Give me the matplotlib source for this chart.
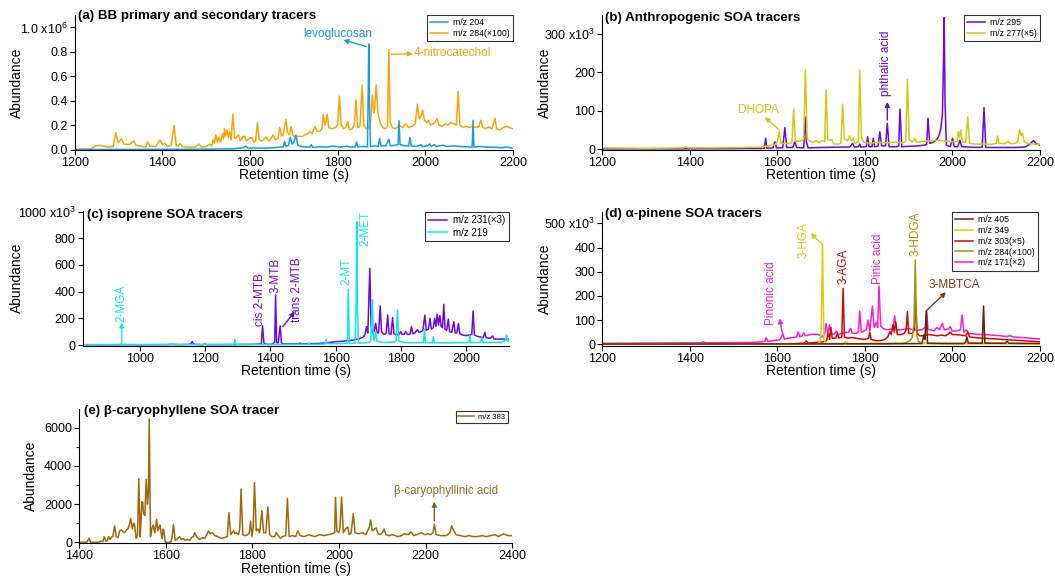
import numpy as np
import matplotlib
matplotlib.use('Agg')
import matplotlib.pyplot as plt
from matplotlib.ticker import MultipleLocator

plt.rcParams['font.family'] = ['Liberation Sans', 'DejaVu Sans']
plt.rcParams['mathtext.fontset'] = 'custom'
plt.rcParams['mathtext.rm'] = 'Liberation Sans'
plt.rcParams['mathtext.it'] = 'Liberation Sans:italic'
plt.rcParams['mathtext.bf'] = 'Liberation Sans:bold'

# ---- (a) BB tracers, abundance in 1e6 ----
a_mz204 = [(1200,0.0),(1300,0.001),(1400,0.002),(1500,0.003),(1560,0.006),(1585,0.015),(1590,0.028),(1596,0.012),
           (1640,0.012),(1665,0.018),(1676,0.022),(1679,0.065),(1682,0.025),(1688,0.035),(1692,0.10),(1696,0.045),
           (1700,0.06),(1705,0.12),(1709,0.035),(1720,0.022),(1737,0.02),(1740,0.04),(1743,0.018),(1760,0.022),
           (1775,0.02),(1790,0.028),(1805,0.02),(1820,0.028),(1830,0.02),(1840,0.022),(1843,0.062),(1846,0.022),
           (1860,0.025),(1868,0.022),(1870,0.5),(1871,0.865),(1872.5,0.4),(1875,0.025),(1885,0.03),(1893,0.025),
           (1896,0.09),(1899,0.03),(1910,0.03),(1917,0.085),(1920,0.03),(1930,0.035),(1938,0.04),(1940,0.236),
           (1942.5,0.04),(1955,0.03),(1962,0.03),(1965,0.1),(1968,0.03),(1980,0.025),(1990,0.04),(1993,0.025),
           (2005,0.03),(2010,0.045),(2014,0.025),(2020,0.04),(2025,0.025),(2040,0.035),(2050,0.025),(2065,0.03),
           (2080,0.025),(2095,0.022),(2107,0.02),(2109,0.24),(2111,0.02),(2125,0.025),(2140,0.02),(2160,0.018),
           (2175,0.015),(2185,0.02),(2200,0.012)]
a_mz284 = [(1200,0.002),(1230,0.004),(1240,0.01),(1248,0.03),(1258,0.035),(1265,0.028),(1275,0.02),(1288,0.025),
           (1294,0.14),(1299,0.06),(1303,0.07),(1307,0.09),(1312,0.045),(1325,0.04),(1335,0.072),(1340,0.035),
           (1355,0.025),(1362,0.02),(1367,0.064),(1372,0.025),(1385,0.025),(1395,0.078),(1400,0.04),(1406,0.05),
           (1412,0.025),(1420,0.03),(1427,0.198),(1432,0.03),(1437,0.03),(1441,0.05),(1446,0.025),(1460,0.02),
           (1475,0.02),(1484,0.045),(1489,0.02),(1500,0.025),(1509,0.045),(1513,0.03),(1516,0.08),(1519,0.05),
           (1522,0.12),(1526,0.06),(1529,0.10),(1533,0.06),(1538,0.133),(1540,0.09),(1542,0.17),(1545,0.11),
           (1548,0.16),(1551,0.1),(1554,0.145),(1557,0.08),(1561,0.288),(1565,0.09),(1569,0.1),(1574,0.12),
           (1578,0.07),(1583,0.1),(1588,0.11),(1592,0.07),(1598,0.09),(1604,0.1),(1609,0.06),(1613,0.07),
           (1617,0.22),(1621,0.08),(1628,0.07),(1633,0.09),(1638,0.1),(1643,0.07),(1648,0.09),(1653,0.12),
           (1658,0.08),(1664,0.09),(1668,0.18),(1672,0.11),(1676,0.12),(1682,0.247),(1686,0.14),(1690,0.12),
           (1694,0.19),(1698,0.12),(1703,0.1),(1710,0.11),(1718,0.105),(1725,0.12),(1732,0.13),(1737,0.146),
           (1742,0.13),(1748,0.19),(1753,0.15),(1760,0.15),(1764,0.17),(1767,0.288),(1771,0.2),(1773,0.22),
           (1776,0.288),(1780,0.18),(1787,0.17),(1795,0.18),(1800,0.2),(1804,0.439),(1808,0.21),(1813,0.17),
           (1818,0.18),(1823,0.228),(1827,0.16),(1833,0.17),(1838,0.2),(1842,0.406),(1846,0.18),(1851,0.19),
           (1856,0.529),(1860,0.2),(1866,0.17),(1872,0.18),(1876,0.25),(1879,0.447),(1883,0.3),(1885,0.35),
           (1888,0.529),(1892,0.3),(1897,0.22),(1903,0.18),(1910,0.17),(1914,0.2),(1917,0.82),(1920,0.22),
           (1925,0.18),(1932,0.17),(1940,0.2),(1948,0.18),(1955,0.21),(1962,0.18),(1970,0.19),(1977,0.21),
           (1982,0.373),(1986,0.25),(1990,0.27),(1994,0.324),(1998,0.24),(2003,0.22),(2007,0.24),(2012,0.2),
           (2018,0.21),(2023,0.23),(2027,0.255),(2031,0.2),(2038,0.19),(2045,0.21),(2052,0.2),(2058,0.22),
           (2066,0.21),(2071,0.2),(2075,0.474),(2079,0.2),(2086,0.18),(2093,0.19),(2100,0.18),(2108,0.19),
           (2115,0.18),(2122,0.19),(2127,0.24),(2131,0.18),(2138,0.17),(2145,0.185),(2152,0.17),(2159,0.255),
           (2163,0.17),(2170,0.16),(2178,0.18),(2185,0.19),(2192,0.18),(2200,0.17)]

# ---- (b) anthropogenic, abundance in 1e3 ----
b_mz295 = [(1200,0.5),(1300,0.5),(1400,0.5),(1500,1),(1560,1.5),(1570,2),(1573,28),(1576,2),(1590,3),(1594,19),
           (1598,3),(1612,3),(1617,56),(1621,4),(1635,4),(1640,19),(1644,4),(1660,3),(1663,84),(1666,20),(1670,3),
           (1700,4),(1740,5),(1765,5),(1772,15),(1776,5),(1785,6),(1788,13),(1791,5),(1803,6),(1806,32),(1809,6),
           (1816,6),(1819,28),(1822,6),(1830,8),(1834,45),(1838,8),(1847,8),(1851,67),(1855,6),(1872,6),(1877,8),
           (1880,104),(1884,6),(1900,7),(1920,8),(1935,10),(1941,12),(1944,80),(1948,15),(1955,17),(1962,22),
           (1968,32),(1973,50),(1977,90),(1979,200),(1981,343),(1983,120),(1986,10),(1995,6),(2000,28),(2004,6),
           (2012,6),(2017,23),(2021,6),(2040,5),(2060,4),(2068,5),(2072,108),(2076,4),(2100,4),(2140,4),(2165,5),
           (2176,12),(2185,22),(2190,15),(2200,10)]
b_mz277 = [(1200,3),(1300,2),(1385,3),(1390,6),(1395,3),(1450,3),(1520,4),(1560,5),(1580,8),(1595,12),(1600,20),
           (1604,45),(1608,15),(1620,14),(1633,16),(1637,103),(1641,20),(1652,20),(1656,24),(1660,25),(1664,208),
           (1668,25),(1680,17),(1688,22),(1695,16),(1701,22),(1708,20),(1711,154),(1715,25),(1720,23),(1724,25),
           (1728,14),(1738,12),(1745,15),(1749,117),(1753,25),(1760,22),(1765,34),(1769,22),(1773,28),(1777,15),
           (1785,18),(1788,206),(1792,30),(1797,18),(1810,15),(1830,17),(1850,16),(1870,18),(1885,16),(1893,20),
           (1897,182),(1901,25),(1908,18),(1914,28),(1918,18),(1935,20),(1955,22),(1975,22),(1995,20),(2005,18),
           (2010,20),(2013,45),(2016,30),(2019,50),(2023,18),(2030,18),(2035,84),(2039,15),(2050,13),(2070,13),
           (2090,12),(2100,15),(2103,34),(2107,15),(2120,14),(2127,20),(2132,14),(2145,15),(2150,22),(2153,50),
           (2157,35),(2160,41),(2164,18),(2175,14),(2190,12),(2200,13)]

# ---- (c) isoprene, abundance in 1e3 ----
c_mz231 = [(824,2),(900,2),(940,3),(1000,2),(1080,3),(1100,5),(1120,3),(1155,5),(1160,25),(1165,5),(1195,3),
           (1199,8),(1203,3),(1250,3),(1300,4),(1350,5),(1372,8),(1376,143),(1380,15),(1385,8),(1390,5),(1405,5),
           (1413,20),(1416,375),(1419,20),(1424,15),(1430,143),(1434,15),(1440,8),(1488,8),(1491,15),(1494,8),
           (1520,10),(1550,12),(1580,18),(1600,25),(1620,28),(1640,32),(1655,38),(1670,45),(1685,60),(1690,75),
           (1695,138),(1699,90),(1705,575),(1709,150),(1713,90),(1718,100),(1723,163),(1727,95),(1732,90),
           (1737,293),(1741,100),(1748,80),(1755,85),(1760,225),(1764,85),(1770,80),(1775,205),(1779,85),(1787,75),
           (1795,80),(1800,100),(1804,80),(1810,80),(1815,100),(1820,80),(1828,80),(1833,138),(1837,85),(1843,90),
           (1851,115),(1856,95),(1862,100),(1868,110),(1874,225),(1878,110),(1885,120),(1890,200),(1894,120),
           (1900,130),(1904,200),(1908,140),(1912,230),(1916,150),(1920,220),(1924,140),(1928,130),(1932,305),
           (1936,120),(1941,110),(1946,195),(1950,100),(1956,95),(1963,175),(1967,90),(1972,90),(1977,160),
           (1981,85),(1990,75),(2000,70),(2010,75),(2018,80),(2022,255),(2026,75),(2035,65),(2045,60),(2053,55),
           (2058,95),(2062,55),(2075,50),(2082,68),(2086,45),(2100,45),(2115,45),(2125,40),(2132,45)]
c_mz219 = [(824,3),(900,3),(938,3),(941,8),(944,3),(1000,3),(1100,3),(1200,3),(1288,4),(1291,42),(1294,5),
           (1380,4),(1420,4),(1440,4),(1515,5),(1518,15),(1521,5),(1560,6),(1568,8),(1571,42),(1574,10),(1590,10),
           (1610,10),(1628,12),(1636,15),(1639,418),(1642,12),(1650,12),(1660,15),(1663,300),(1665,925),(1667,300),
           (1670,15),(1685,15),(1700,18),(1708,25),(1711,200),(1713,338),(1716,60),(1719,30),(1723,100),(1727,30),
           (1735,25),(1745,20),(1760,20),(1780,22),(1786,30),(1790,263),(1794,30),(1800,25),(1815,18),(1840,17),
           (1860,18),(1870,20),(1873,118),(1876,20),(1890,17),(1897,20),(1900,62),(1903,18),(1920,16),(1950,16),
           (1980,18),(2000,18),(2009,20),(2012,75),(2015,18),(2030,18),(2044,20),(2048,55),(2052,20),(2070,18),
           (2090,20),(2110,20),(2118,30),(2122,40),(2125,75),(2128,25),(2132,40)]

# ---- (d) alpha-pinene, abundance in 1e3 ----
d_mz405 = [(1200,1),(1400,1),(1600,1.5),(1800,2),(1850,2),(1900,2.5),(1930,3),(1935,40),(1937,20),(1940,137),
           (1943,4),(1980,3),(2025,3),(2030,8),(2033,31),(2036,5),(2068,4),(2071,158),(2074,5),(2120,4),(2125,12),
           (2129,4),(2200,3)]
d_mz349 = [(1200,0.5),(1500,0.5),(1650,1),(1690,2),(1697,8),(1700,60),(1703,413),(1706,20),(1712,3),(1750,3),
           (1758,10),(1762,3),(1800,3),(1866,3),(1870,8),(1874,3),(1900,3),(1980,3),(1984,8),(1988,3),(2100,3),
           (2200,3)]
d_mz303 = [(1200,2),(1400,2),(1600,2),(1640,3),(1662,5),(1666,14),(1670,5),(1690,8),(1704,10),(1712,15),(1716,45),
           (1719,20),(1722,70),(1725,25),(1733,25),(1737,45),(1740,25),(1747,30),(1750,231),(1753,30),(1760,25),
           (1770,28),(1780,25),(1790,22),(1800,20),(1808,25),(1811,50),(1814,20),(1825,15),(1835,15),(1845,20),
           (1852,30),(1857,52),(1860,40),(1864,80),(1867,50),(1870,93),(1874,40),(1882,40),(1890,45),(1894,60),
           (1897,135),(1900,45),(1908,45),(1913,60),(1916,180),(1919,45),(1925,35),(1935,35),(1945,40),(1956,38),
           (1965,35),(1975,38),(1985,35),(1995,50),(2000,40),(2010,40),(2020,38),(2030,35),(2035,50),(2039,30),
           (2050,28),(2070,25),(2100,22),(2130,18),(2160,15),(2200,10)]
d_mz284 = [(1200,1),(1500,1.5),(1700,2),(1750,2),(1755,8),(1760,2),(1850,3),(1885,4),(1895,8),(1903,15),(1908,30),
           (1912,80),(1915,348),(1918,40),(1922,12),(1930,4),(1980,3),(2100,3),(2200,3)]
d_mz171 = [(1200,4),(1300,5),(1380,6),(1425,6),(1430,10),(1435,6),(1500,7),(1550,8),(1565,10),(1571,12),(1574,27),
           (1578,12),(1590,15),(1605,18),(1609,30),(1612,45),(1616,22),(1625,25),(1635,28),(1644,30),(1647,52),
           (1651,32),(1656,35),(1660,48),(1664,35),(1675,40),(1685,42),(1695,40),(1702,30),(1708,45),(1711,86),
           (1715,45),(1719,80),(1723,42),(1730,42),(1735,55),(1739,40),(1748,45),(1758,50),(1762,48),(1767,66),
           (1771,45),(1780,45),(1785,50),(1788,138),(1792,50),(1798,55),(1803,60),(1807,100),(1811,55),(1817,158),
           (1821,70),(1826,90),(1829,70),(1832,241),(1836,75),(1842,65),(1850,60),(1858,62),(1864,65),(1868,117),
           (1872,60),(1880,60),(1890,62),(1900,65),(1910,60),(1920,58),(1930,60),(1938,70),(1941,140),(1944,60),
           (1950,60),(1958,55),(1964,70),(1970,60),(1977,86),(1981,60),(1990,62),(1995,73),(1999,55),(2010,55),
           (2018,60),(2022,121),(2026,50),(2032,59),(2036,45),(2050,42),(2070,40),(2090,38),(2110,35),(2125,32),
           (2130,36),(2140,30),(2160,28),(2180,25),(2200,22)]

# ---- (e) beta-caryophyllene ----
e_mz383 = [(1400,0),(1418,0),(1423,207),(1427,0),(1445,0),(1450,60),(1455,30),(1458,295),(1462,50),(1466,100),
           (1468,295),(1472,150),(1475,270),(1478,300),(1482,853),(1486,300),(1490,250),(1494,600),(1498,650),
           (1502,550),(1505,500),(1510,650),(1513,700),(1516,900),(1519,1254),(1523,700),(1526,1000),(1528,950),
           (1532,200),(1535,400),(1538,3314),(1541,300),(1543,1000),(1545,2127),(1547,2100),(1549,1500),(1552,1400),
           (1555,3296),(1558,2000),(1560,2500),(1562,6455),(1565,300),(1568,700),(1571,900),(1575,500),(1579,1202),
           (1582,600),(1585,800),(1587,900),(1590,400),(1592,200),(1594,700),(1596,600),(1599,0),(1612,0),(1615,300),
           (1618,940),(1622,100),(1628,200),(1632,300),(1636,150),(1640,200),(1645,100),(1651,150),(1656,100),
           (1660,250),(1664,300),(1667,504),(1671,300),(1678,150),(1685,250),(1690,200),(1696,450),(1699,600),
           (1703,450),(1708,500),(1713,350),(1721,300),(1728,200),(1736,250),(1742,300),(1746,1551),(1750,400),
           (1756,600),(1760,450),(1763,500),(1768,400),(1771,700),(1774,2790),(1778,400),(1784,350),(1790,400),
           (1793,500),(1796,1100),(1799,300),(1802,800),(1805,3122),(1809,600),(1813,700),(1817,500),(1822,1656),
           (1826,500),(1831,500),(1836,1865),(1840,400),(1845,300),(1851,300),(1855,500),(1860,350),(1865,200),
           (1870,300),(1877,350),(1881,2302),(1885,300),(1892,350),(1900,300),(1905,600),(1910,350),(1920,300),
           (1930,400),(1936,350),(1945,300),(1955,400),(1965,350),(1975,400),(1985,450),(1990,500),(1992,2354),
           (1995,600),(1999,500),(2002,700),(2006,2371),(2010,500),(2015,700),(2020,800),(2024,400),(2028,500),
           (2033,1499),(2037,500),(2045,450),(2055,500),(2062,400),(2066,600),(2070,800),(2073,1167),(2077,600),
           (2082,700),(2086,750),(2090,450),(2095,400),(2100,500),(2104,700),(2108,400),(2115,350),(2125,400),
           (2135,300),(2145,350),(2150,450),(2160,400),(2166,550),(2172,350),(2180,400),(2190,500),(2198,400),
           (2205,450),(2212,400),(2217,500),(2220,958),(2224,400),(2235,350),(2248,350),(2256,500),(2260,870),
           (2265,600),(2270,400),(2280,350),(2290,300),(2300,350),(2310,300),(2320,300),(2330,350),(2340,300),
           (2350,350),(2360,400),(2368,300),(2380,450),(2390,350),(2400,350)]

col = {'204': '#1a9be6', '284a': '#fba40a', '295': '#6a0ad2', '277': '#cccc14', '231': '#6c0ae0',
       '219': '#12e6ea', '405': '#6e1e0c', '349': '#d2d20a', '303': '#cc0a0a', '284d': '#9a9a00',
       '171': '#ff1ecc', '383': '#a0680a'}


def trace(ax, pts, color, label):
    t, y = np.array(pts).T
    return ax.plot(t, y, color=color, lw=1.1, label=label)[0]


def style(ax, xlim, ylim, xticks, yticks, ylabels, ylab_x):
    ax.set_xlim(*xlim)
    ax.set_ylim(*ylim)
    ax.spines['top'].set_visible(False)
    ax.spines['right'].set_visible(False)
    ax.spines['left'].set_linewidth(0.8)
    ax.spines['bottom'].set_linewidth(0.8)
    ax.set_xticks(xticks)
    ax.set_yticks(yticks)
    ax.set_yticklabels(ylabels)
    ax.tick_params(direction='out', length=3.5, width=0.8, labelsize=9, pad=1.5)
    ax.set_xlabel('Retention time (s)', fontsize=10, labelpad=-0.5)
    ax.set_ylabel('Abundance', fontsize=10)
    ax.yaxis.set_label_coords(ylab_x, 0.5)


def legend(ax, handles, fs, anchor):
    lg = ax.legend(handles=handles, loc='upper right', bbox_to_anchor=anchor, fontsize=fs,
                   frameon=True, fancybox=False, borderaxespad=0, borderpad=0.35,
                   labelspacing=0.22, handlelength=2.0, handletextpad=0.6)
    lg.get_frame().set_edgecolor('black')
    lg.get_frame().set_linewidth(0.8)


def arrow(ax, start, head, color):
    ax.annotate('', xy=head, xytext=start,
                arrowprops=dict(arrowstyle='-|>', color=color, lw=1.0, mutation_scale=7,
                                shrinkA=0, shrinkB=0))


fig = plt.figure(figsize=(10.55, 5.77), dpi=100)

# (a)
ax = fig.add_axes([0.0707, 0.740, 0.4155, 0.234])
h2 = trace(ax, a_mz284, col['284a'], 'm/z 284(\u00d7100)')
h1 = trace(ax, a_mz204, col['204'], 'm/z 204')
style(ax, (1200, 2200), (-0.004, 1.102), range(1200, 2201, 200), [0, 0.2, 0.4, 0.6, 0.8, 1.0],
      ['0.0', '0.2', '0.4', '0.6', '0.8', '1.0 x10$^{6}$'], -0.115)
legend(ax, [h1, h2], 6.3, (1.0, 1.0))
ax.text(0.008, 0.993, '(a) BB primary and secondary tracers', transform=ax.transAxes,
        fontsize=9.6, fontweight='bold', va='center', ha='left')
ax.text(1800, 0.95, 'levoglucosan', color=col['204'], fontsize=8.5, ha='center', va='center')
arrow(ax, (1866, 0.843), (1813, 0.897), col['204'])
ax.text(2061, 0.794, '4-nitrocatechol', color=col['284a'], fontsize=8.5, ha='center', va='center')
arrow(ax, (1922, 0.78), (1972, 0.785), col['284a'])

# (b)
ax = fig.add_axes([0.571, 0.740, 0.4148, 0.234])
h1 = trace(ax, b_mz295, col['295'], 'm/z 295')
h2 = trace(ax, b_mz277, col['277'], 'm/z 277(\u00d75)')
style(ax, (1200, 2200), (-2.6, 349.6), range(1200, 2201, 200), [0, 100, 200, 300],
      ['0', '100', '200', '300 x10$^{3}$'], -0.115)
legend(ax, [h1, h2], 6.3, (1.0, 1.0))
ax.text(0.005, 0.976, '(b) Anthropogenic SOA tracers', transform=ax.transAxes,
        fontsize=9.6, fontweight='bold', va='center', ha='left')
ax.text(1556, 103, 'DHOPA', color=col['277'], fontsize=8.5, ha='center', va='center')
arrow(ax, (1604, 50), (1571, 83), col['277'])
ax.text(1849, 223, 'phthalic acid', color=col['295'], fontsize=8.5, ha='center', va='center', rotation=90)
arrow(ax, (1851, 76), (1851, 123), col['295'])

# (c)
ax = fig.add_axes([0.0784, 0.4009, 0.404, 0.234])
h1 = trace(ax, c_mz231, col['231'], 'm/z 231(\u00d73)')
h2 = trace(ax, c_mz219, col['219'], 'm/z 219')
style(ax, (824, 2132), (-5, 1007), range(1000, 2001, 200), [0, 200, 400, 600, 800, 1000],
      ['0', '200', '400', '600', '800', '1000 x10$^{3}$'], -0.138)
legend(ax, [h1, h2], 7, (1.0, 0.99))
ax.text(0.01, 0.968, '(c) isoprene SOA tracers', transform=ax.transAxes,
        fontsize=9.6, fontweight='bold', va='center', ha='left')
rot_c = [('2-MGA', 944, 312, '219'), ('cis 2-MTB', 1368, 338, '231'), ('3-MTB', 1417, 525, '231'),
         ('trans 2-MTB', 1483, 413, '231'), ('2-MT', 1632, 550, '219'), ('2-MET', 1692, 875, '219')]
for txt, tx, ty, k in rot_c:
    ax.text(tx, ty, txt, color=col[k], fontsize=8.5, ha='center', va='center', rotation=90)
arrow(ax, (944, 5), (944, 170), col['219'])
arrow(ax, (1438, 138), (1475, 250), col['231'])

# (d)
ax = fig.add_axes([0.571, 0.4009, 0.4148, 0.2322])
h5 = trace(ax, d_mz171, col['171'], 'm/z 171(\u00d72)')
h3 = trace(ax, d_mz303, col['303'], 'm/z 303(\u00d75)')
h4 = trace(ax, d_mz284, col['284d'], 'm/z 284(\u00d7100)')
h2 = trace(ax, d_mz349, col['349'], 'm/z 349')
h1 = trace(ax, d_mz405, col['405'], 'm/z 405')
style(ax, (1200, 2200), (-5.8, 548), range(1200, 2201, 200), [0, 100, 200, 300, 400, 500],
      ['0', '100', '200', '300', '400', '500 x10$^{3}$'], -0.115)
legend(ax, [h1, h2, h3, h4, h5], 6.3, (0.995, 1.0))
ax.text(0.006, 0.983, '(d) \u03b1-pinene SOA tracers', transform=ax.transAxes,
        fontsize=9.6, fontweight='bold', va='center', ha='left')
rot_d = [('Pinonic acid', 1586, 211, '171'), ('3-HGA', 1659, 431, '349'), ('3-AGA', 1750, 321, '303'),
         ('Pinic acid', 1830, 355, '171'), ('3-HDGA', 1915, 458, '284d')]
for txt, tx, ty, k in rot_d:
    ax.text(tx, ty, txt, color=col[k], fontsize=8.5, ha='center', va='center', rotation=90)
ax.text(2005, 245, '3-MBTCA', color='#8a3418', fontsize=8.5, ha='center', va='center')
arrow(ax, (1611, 48), (1605, 107), col['171'])
arrow(ax, (1704, 410), (1676, 459), col['349'])
arrow(ax, (1942, 142), (1985, 215), '#8a3418')

# (e)
ax = fig.add_axes([0.0749, 0.0584, 0.4107, 0.2328])
h1 = trace(ax, e_mz383, col['383'], 'm/z 383')
style(ax, (1400, 2400), (-52, 6979), range(1400, 2401, 200), [0, 2000, 4000, 6000],
      ['0', '2000', '4000', '6000'], -0.095)
ax.yaxis.set_minor_locator(MultipleLocator(1000))
ax.tick_params(which='minor', direction='out', length=2.5, width=0.8)
legend(ax, [h1], 5.5, (0.99, 0.987))
ax.text(0.012, 0.987, '(e) \u03b2-caryophyllene SOA tracer', transform=ax.transAxes,
        fontsize=9.6, fontweight='bold', va='center', ha='left')
ax.text(2247, 2703, '\u03b2-caryophyllinic acid', color='#9a6a24', fontsize=8.3, ha='center', va='center')
arrow(ax, (2220, 1132), (2220, 2127), '#8a5a14')

fig.savefig('out.png', dpi=100)
